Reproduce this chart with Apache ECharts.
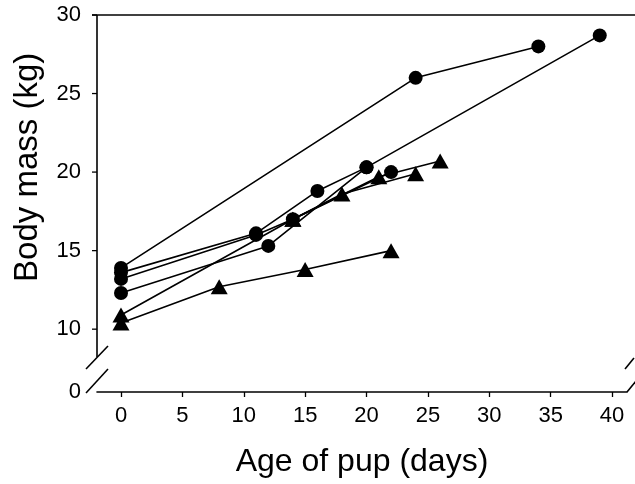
<!DOCTYPE html>
<html><head><meta charset="utf-8">
<script src="https://cdn.jsdelivr.net/npm/echarts@6/dist/echarts.min.js"></script>
<style>html,body{margin:0;padding:0;background:#fff}#c{width:635px;height:484px}</style>
</head><body><div id="c"></div>
<script>
// ---- data ----
const xTickValues = [0, 5, 10, 15, 20, 25, 30, 35, 40];
const yTickValues = [10, 15, 20, 25, 30];
const yLabelValues = [6, 10, 15, 20, 25, 30];      // 6 = broken-axis bottom, shown as "0"
const yLabelTexts = ['0', '10', '15', '20', '25', '30'];
const xAxisTitle = 'Age of pup (days)';
const yAxisTitle = 'Body mass (kg)';

const circlePup1 = [[0, 13.9], [24, 26.0], [34, 28.0]];
const circlePup2 = [[0, 13.6], [11, 16.1], [16, 18.8], [20, 20.3], [39, 28.7]];
const circlePup3 = [[0, 13.2], [11, 16.0], [14, 17.0], [22, 20.0]];
const circlePup4 = [[0, 12.3], [12, 15.3], [20, 20.3]];
const trianglePup1 = [[0, 10.4], [8, 12.7], [15, 13.8], [22, 15.0]];
const trianglePup2 = [[0, 10.9], [14, 17.0], [18, 18.6], [24, 19.9]];
const trianglePup3 = [[14, 17.0], [21, 19.7], [26, 20.7]];

// ---- chart ----
const FONT = '"Liberation Sans", Arial, sans-serif';
const chart = echarts.init(document.getElementById('c'), null, {renderer: 'canvas'});
const X_MIN = -1.955, X_MAX = 41.22, Y_MIN = 6, Y_MAX = 30;

function mk(data, kind) {
  return {
    type: 'line', data: data, animation: false,
    symbol: kind === 'c' ? 'circle' : 'triangle',
    symbolSize: kind === 'c' ? 14 : [17, 15],
    showSymbol: true,
    lineStyle: {color: '#000', width: 1.6},
    itemStyle: {color: '#000', borderWidth: 0},
    emphasis: {disabled: true},
    z: kind === 'c' ? 3 : 2
  };
}

chart.setOption({
  backgroundColor: '#fff',
  animation: false,
  grid: {left: 97, right: 8, top: 15, bottom: 92},
  xAxis: {
    type: 'value', min: X_MIN, max: X_MAX,
    name: xAxisTitle, nameLocation: 'middle', nameGap: 54,
    nameTextStyle: {fontFamily: FONT, fontSize: 32, color: '#000'},
    axisLine: {show: true, onZero: false, lineStyle: {color: '#000', width: 1.6}},
    axisTick: {show: true, inside: false, length: 5, customValues: xTickValues, lineStyle: {color: '#000', width: 1.3}},
    axisLabel: {customValues: xTickValues, margin: 13, fontFamily: FONT, fontSize: 22, color: '#000'},
    splitLine: {show: false}
  },
  yAxis: {
    type: 'value', min: Y_MIN, max: Y_MAX,
    axisLine: {show: false, onZero: false},
    axisTick: {show: false},
    axisLabel: {
      customValues: yLabelValues, margin: 16, fontFamily: FONT, fontSize: 22, color: '#000',
      formatter: function (v) { const i = yLabelValues.indexOf(v); return i >= 0 ? yLabelTexts[i] : ''; }
    },
    splitLine: {show: false}
  },
  series: [
    mk(trianglePup1, 't'), mk(trianglePup2, 't'), mk(trianglePup3, 't'),
    mk(circlePup1, 'c'), mk(circlePup2, 'c'), mk(circlePup3, 'c'), mk(circlePup4, 'c')
  ]
});

// axis frame decorations (top line, left axis line + ticks, break marks) + y title
const pTopLeft = chart.convertToPixel({gridIndex: 0}, [X_MIN, Y_MAX]);
const pBotLeft = chart.convertToPixel({gridIndex: 0}, [X_MIN, Y_MIN]);
const pBotRight = chart.convertToPixel({gridIndex: 0}, [X_MAX, Y_MIN]);
const pTitleY = chart.convertToPixel({gridIndex: 0}, [X_MIN, 20.3]);
const xl = pTopLeft[0], yt = pTopLeft[1], yb = pBotLeft[1], xr = pBotRight[0];
const ls = {stroke: '#000', lineWidth: 1.6};
function seg(x1, y1, x2, y2, w) { return {type: 'line', shape: {x1: x1, y1: y1, x2: x2, y2: y2}, style: {stroke: '#000', lineWidth: w || 1.6}, silent: true, z: 10}; }
const deco = [
  seg(xl - 5, yt, 635, yt),
  seg(xl, yt, xl, yb - 35),
  seg(xl - 11, yb - 23, xl + 11, yb - 46),
  seg(xl - 11, yb + 1, xl + 11, yb - 23),
  seg(xr - 2, yb - 23, xr + 7, yb - 34),
  seg(xr, yb, xr + 9, yb - 11),
  {
    type: 'text', x: 28, y: pTitleY[1], rotation: Math.PI / 2, silent: true,
    style: {text: yAxisTitle, fill: '#000', font: '33px ' + FONT, align: 'center', verticalAlign: 'middle'}
  }
];
yTickValues.forEach(function (v) {
  const py = chart.convertToPixel({yAxisIndex: 0}, v);
  deco.push(seg(xl - 5, py, xl, py, 1.3));
});
chart.setOption({graphic: deco});
</script></body></html>
